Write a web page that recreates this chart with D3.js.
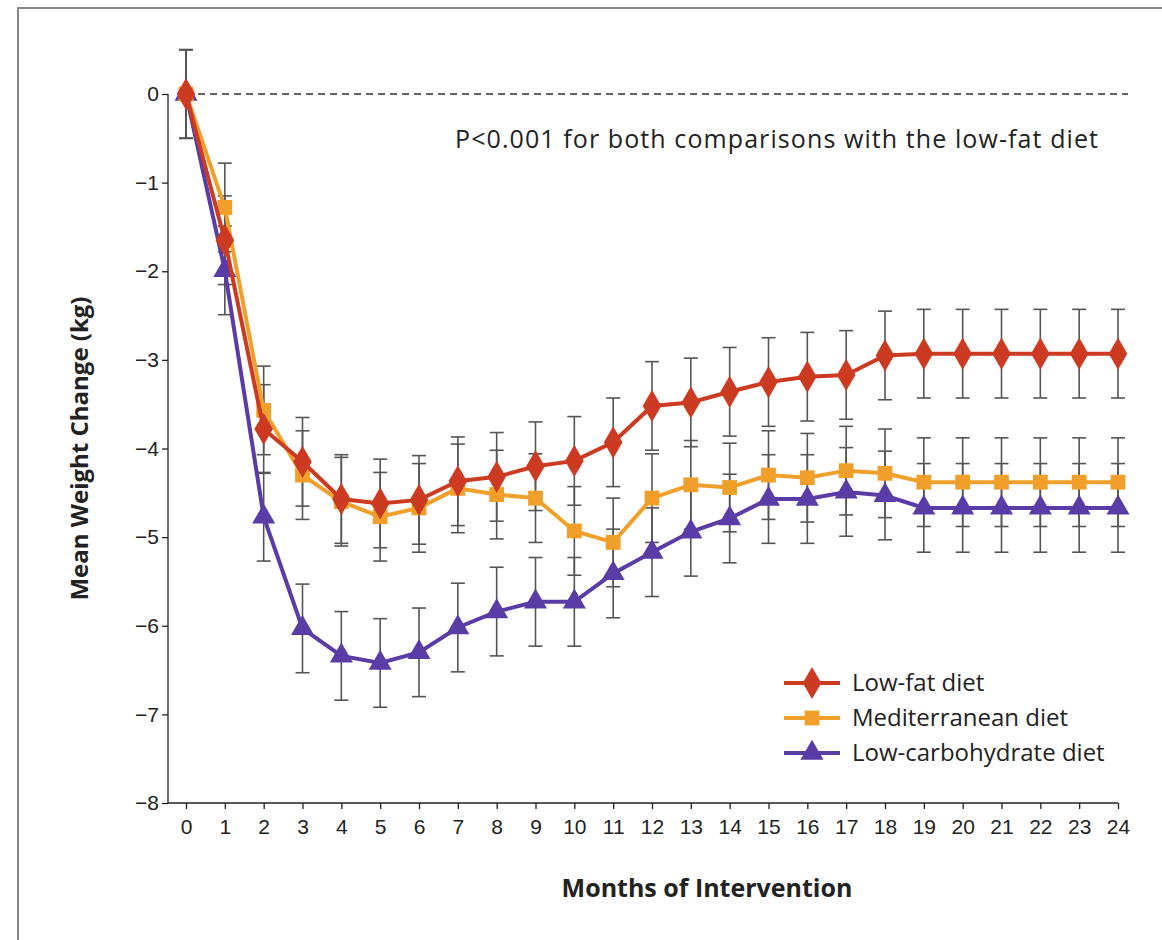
<!DOCTYPE html>
<html><head><meta charset="utf-8">
<script src="https://cdn.jsdelivr.net/npm/d3@7"></script>
<style>body{margin:0;background:#fff;font-family:"Open Sans","DejaVu Sans",sans-serif}</style>
</head><body><svg id="c" width="1162" height="940"></svg>
<script>
// values (kg)
const months = d3.range(0, 25);
const lowFat = [0,-1.65,-3.78,-4.15,-4.57,-4.62,-4.58,-4.37,-4.32,-4.2,-4.14,-3.93,-3.52,-3.48,-3.36,-3.25,-3.19,-3.17,-2.95,-2.93,-2.93,-2.93,-2.93,-2.93,-2.93];
const medit = [0,-1.28,-3.57,-4.3,-4.6,-4.77,-4.67,-4.45,-4.52,-4.56,-4.93,-5.06,-4.56,-4.41,-4.44,-4.3,-4.33,-4.25,-4.28,-4.38,-4.38,-4.38,-4.38,-4.38,-4.38];
const lowCarb = [0,-1.99,-4.77,-6.03,-6.34,-6.42,-6.3,-6.02,-5.84,-5.73,-5.73,-5.41,-5.17,-4.94,-4.79,-4.57,-4.57,-4.49,-4.53,-4.67,-4.67,-4.67,-4.67,-4.67,-4.67];
const errHalf = 0.5;
const yTicks = [0,-1,-2,-3,-4,-5,-6,-7,-8];

const svg = d3.select('#c');
svg.append('rect').attr('x',18).attr('y',8).attr('width',1150).attr('height',940)
  .attr('fill','none').attr('stroke','#888').attr('stroke-width',2);

const x = d3.scaleLinear().domain([0,24]).range([186,1118]);
const y = d3.scaleLinear().domain([0,-8]).range([94,803]);

// axes
const xa = svg.append('g').attr('transform','translate(0,803)')
  .call(d3.axisBottom(x).tickValues(months).tickSize(6).tickFormat(d3.format('d')));
const ya = svg.append('g').attr('transform','translate(168,0)')
  .call(d3.axisLeft(y).tickValues(yTicks).tickSize(6).tickFormat(d => d === 0 ? '0' : '\u2212' + Math.abs(d)));
[xa, ya].forEach(a => {
  a.selectAll('path,line').attr('stroke','#222').attr('stroke-width',1.3);
  a.selectAll('text').attr('font-size',21).attr('fill','#222');
});
xa.select('.domain').attr('d','M168,0H1118');
ya.select('.domain').attr('d','M0,'+y(0)+'V'+y(-8));
xa.selectAll('text').attr('dy','1.05em');

svg.append('line').attr('x1',x(0)).attr('x2',1128).attr('y1',y(0)).attr('y2',y(0))
  .attr('stroke','#333').attr('stroke-width',1.3).attr('stroke-dasharray','7,5');

svg.append('text').attr('x',1098).attr('y',148).attr('text-anchor','end')
  .attr('font-size',25).attr('fill','#222').attr('textLength',643).text('P<0.001 for both comparisons with the low-fat diet');
svg.append('text').attr('x',707).attr('y',897).attr('text-anchor','middle')
  .attr('font-size',25).attr('font-weight','bold').attr('fill','#222').text('Months of Intervention');
svg.append('text').attr('transform','translate(88,'+y(-4)+') rotate(-90)').attr('text-anchor','middle')
  .attr('font-size',24).attr('font-weight','bold').attr('fill','#222').text('Mean Weight Change (kg)');

const series = [
  {name:'Low-fat diet', vals:lowFat, color:'#cc3a22', sym:d3.symbolDiamond, size:300},
  {name:'Mediterranean diet', vals:medit, color:'#f0a02a', sym:d3.symbolSquare, size:220},
  {name:'Low-carbohydrate diet', vals:lowCarb, color:'#5a3ca6', sym:d3.symbolTriangle, size:230}
];

// error bars
series.forEach(s => {
  const g = svg.append('g').attr('stroke','#555').attr('stroke-width',1.6);
  s.vals.forEach((v,i) => {
    const cx = x(months[i]);
    g.append('line').attr('x1',cx).attr('x2',cx).attr('y1',y(v+errHalf)).attr('y2',y(v-errHalf));
    [v+errHalf, v-errHalf].forEach(e => g.append('line').attr('x1',cx-7).attr('x2',cx+7).attr('y1',y(e)).attr('y2',y(e)));
  });
});

const line = d3.line().x((d,i) => x(months[i])).y(d => y(d));
series.slice().reverse().forEach(s => {
  svg.append('path').datum(s.vals).attr('d',line).attr('fill','none')
    .attr('stroke',s.color).attr('stroke-width',4);
  svg.append('g').selectAll('path').data(s.vals).join('path')
    .attr('transform',(d,i) => 'translate(' + x(months[i]) + ',' + y(d) + ')')
    .attr('d',d3.symbol(s.sym,s.size)).attr('fill',s.color);
});

// legend
series.forEach((s,i) => {
  const ly = 683 + i*35;
  svg.append('line').attr('x1',784).attr('x2',840).attr('y1',ly).attr('y2',ly).attr('stroke',s.color).attr('stroke-width',4);
  svg.append('path').attr('transform','translate(812,'+ly+')').attr('d',d3.symbol(s.sym,s.size)).attr('fill',s.color);
  svg.append('text').attr('x',852).attr('y',ly+8).attr('font-size',24).attr('fill','#222').text(s.name);
});
</script></body></html>
